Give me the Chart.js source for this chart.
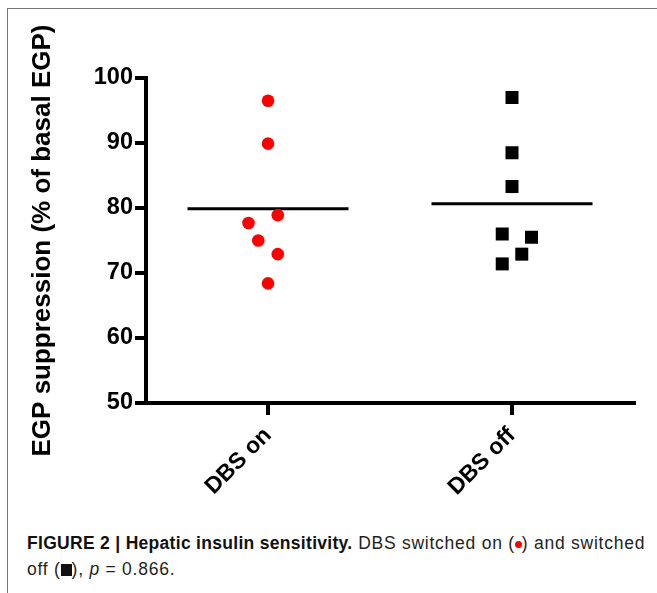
<!DOCTYPE html>
<html>
<head>
<meta charset="utf-8">
<script src="https://cdn.jsdelivr.net/npm/chart.js@4.4.0/dist/chart.umd.min.js"></script>
<style>
  body { margin: 0; background: #fff; }
  .frame { position: absolute; left: 7px; top: 8px; width: 700px; height: 700px; border: 1px solid #777; }
  #wrap { position: absolute; left: 0; top: 0; width: 657px; height: 520px; }
  .caption { position: absolute; left: 27px; top: 530px; width: 622px; font-family: "Liberation Sans", Arial, sans-serif; font-size: 17.5px; letter-spacing: 0.75px; line-height: 26px; color: #231f20; }
  .caption b { color: #111; letter-spacing: 0.3px; }
  .dot { display: inline-block; width: 7px; height: 7px; border-radius: 50%; background: #f00; vertical-align: 1px; }
  .sq { display: inline-block; width: 11px; height: 12px; background: #111; vertical-align: -1px; }
</style>
</head>
<body>
<div class="frame"></div>
<div id="wrap"><canvas id="myChart" width="657" height="520"></canvas></div>
<div class="caption"><b>FIGURE 2 | Hepatic insulin sensitivity.</b> DBS switched on (<span class="dot"></span>) and switched off (<span class="sq"></span>), <i>p</i> = 0.866.</div>
<script>
// groups on the x axis
const groups = ['DBS on', 'DBS off']
// EGP suppression (% of basal EGP)
const dbsOn = [96.5, 89.9, 78.9, 77.7, 75.0, 72.9, 68.4]
const dbsOnJitter = [0, 0, 0.04, -0.08, -0.04, 0.04, 0]
const dbsOff = [97.0, 88.5, 83.3, 76.0, 75.5, 72.9, 71.4]
const dbsOffJitter = [0, 0, 0, -0.04, 0.08, 0.04, -0.04]
const yTicks = [50, 60, 70, 80, 90, 100]

const halfWidth = 0.33

function mean(arr) {
    let s = 0
    for (let i = 0; i < arr.length; i++) s += arr[i]
    return s / arr.length
}

function toPoints(values, jitter, pos) {
    return values.map((v, i) => ({ x: pos + jitter[i], y: v }))
}

function meanLine(values, pos) {
    let m = mean(values)
    return [{ x: pos - halfWidth, y: m }, { x: pos + halfWidth, y: m }]
}

const ctx = document.getElementById('myChart').getContext('2d')
const myChart = new Chart(ctx, {
    type: 'scatter',
    data: {
        datasets: [
            {
                label: groups[0],
                data: toPoints(dbsOn, dbsOnJitter, 1),
                backgroundColor: '#ff0000',
                borderWidth: 0,
                pointStyle: 'circle',
                pointRadius: 6.3
            },
            {
                label: groups[1],
                data: toPoints(dbsOff, dbsOffJitter, 2),
                backgroundColor: '#000000',
                borderWidth: 0,
                pointStyle: 'rect',
                pointRadius: 9.2
            },
            {
                type: 'line',
                data: meanLine(dbsOn, 1),
                borderColor: '#000',
                borderWidth: 3,
                pointRadius: 0
            },
            {
                type: 'line',
                data: meanLine(dbsOff, 2),
                borderColor: '#000',
                borderWidth: 3,
                pointRadius: 0
            }
        ]
    },
    options: {
        responsive: false,
        animation: false,
        layout: { padding: { left: 0, top: 78, right: 23, bottom: 0 } },
        plugins: {
            legend: { display: false },
            tooltip: { enabled: false }
        },
        scales: {
            x: {
                type: 'linear',
                min: 0.5,
                max: 2.5,
                afterBuildTicks: axis => { axis.ticks = [{ value: 1 }, { value: 2 }] },
                afterFit: axis => { axis.height = 117 },
                border: { display: true, color: '#000', width: 4 },
                grid: { drawOnChartArea: false, drawTicks: true, tickLength: 12, tickWidth: 4, tickColor: '#000', color: '#000', lineWidth: 4 },
                ticks: {
                    minRotation: 45,
                    maxRotation: 45,
                    padding: 7,
                    color: '#000',
                    font: { family: 'Liberation Sans, Arial, sans-serif', size: 23, weight: 'bold' },
                    callback: v => groups[v - 1]
                }
            },
            y: {
                min: 50,
                max: 100,
                afterBuildTicks: axis => { axis.ticks = yTicks.map(v => ({ value: v })) },
                afterFit: axis => { axis.width = 146 },
                border: { display: true, color: '#000', width: 4 },
                grid: { drawOnChartArea: false, drawTicks: true, tickLength: 11, tickWidth: 4, tickColor: '#000', color: '#000', lineWidth: 4 },
                ticks: {
                    padding: 2,
                    color: '#000',
                    font: { family: 'Liberation Sans, Arial, sans-serif', size: 23.5, weight: 'bold' }
                },
                title: {
                    display: true,
                    text: 'EGP suppression (% of basal EGP)',
                    color: '#000',
                    padding: { top: 27, bottom: 0 },
                    font: { family: 'Liberation Sans, Arial, sans-serif', size: 26, weight: 'bold' }
                }
            }
        }
    }
})
</script>
</body>
</html>
